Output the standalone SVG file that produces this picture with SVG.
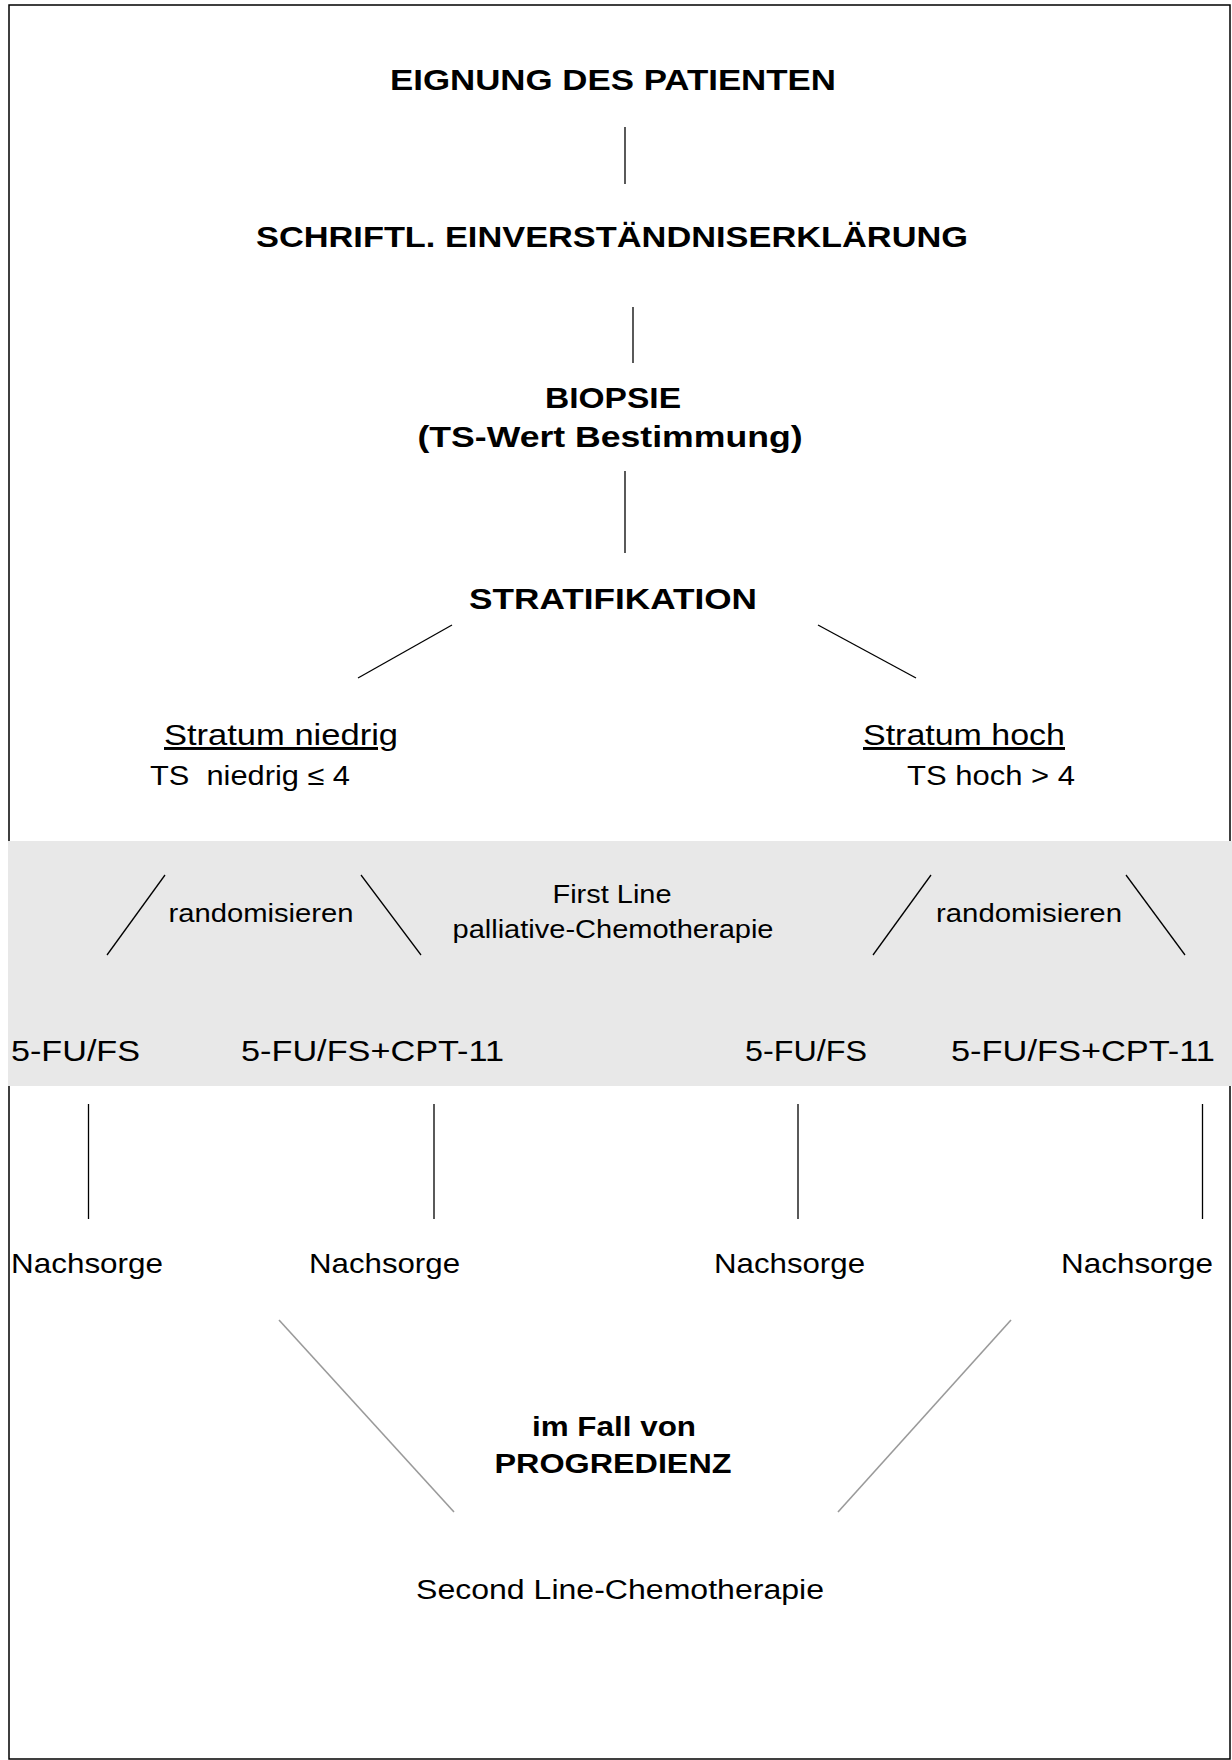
<svg xmlns="http://www.w3.org/2000/svg" width="1232" height="1760" viewBox="0 0 1232 1760">
<style>
  .b { font-family: "Liberation Sans", Arial, Helvetica, sans-serif; font-weight: bold; fill: #000; text-anchor: middle; }
  .r { font-family: "Liberation Sans", Arial, Helvetica, sans-serif; fill: #000; text-anchor: middle; }
  .c line { stroke: #000; stroke-width: 1.3; }
  .c line.g { stroke: #9a9a9a; stroke-width: 1.6; }
</style>
<rect x="0" y="0" width="1232" height="1760" fill="#fff"/>
<rect x="9" y="5" width="1221" height="1754" fill="none" stroke="#000" stroke-width="1.5"/>
<rect x="8" y="841" width="1224" height="245" fill="#e8e8e8"/>

<g class="c" id="connectors">
  <line x1="625" y1="127" x2="625" y2="184"/>
  <line x1="633" y1="307" x2="633" y2="363"/>
  <line x1="625" y1="471" x2="625" y2="553"/>
  <line x1="452" y1="625" x2="358" y2="678"/>
  <line x1="818" y1="625" x2="916" y2="678"/>
  <line x1="165" y1="875" x2="107" y2="955"/>
  <line x1="361" y1="875" x2="421" y2="955"/>
  <line x1="931" y1="875" x2="873" y2="955"/>
  <line x1="1126" y1="875" x2="1185" y2="955"/>
  <line x1="88.5" y1="1104" x2="88.5" y2="1219"/>
  <line x1="434" y1="1104" x2="434" y2="1219"/>
  <line x1="798" y1="1104" x2="798" y2="1219"/>
  <line x1="1202.5" y1="1104" x2="1202.5" y2="1219"/>
  <line class="g" x1="279" y1="1320" x2="454" y2="1512"/>
  <line class="g" x1="1011" y1="1320" x2="838" y2="1512"/>
</g>

<g id="eignung"><text class="b" x="613" y="90" font-size="29.5" textLength="446" lengthAdjust="spacingAndGlyphs">EIGNUNG DES PATIENTEN</text></g>
<g id="einverstaendnis"><text class="b" x="612" y="247" font-size="29.5" textLength="712" lengthAdjust="spacingAndGlyphs">SCHRIFTL. EINVERSTÄNDNISERKLÄRUNG</text></g>
<g id="biopsie">
  <text class="b" x="613" y="408" font-size="29.5" textLength="136" lengthAdjust="spacingAndGlyphs">BIOPSIE</text>
  <text class="b" x="610" y="447" font-size="29.5" textLength="385" lengthAdjust="spacingAndGlyphs">(TS-Wert Bestimmung)</text>
</g>
<g id="stratifikation"><text class="b" x="613" y="609" font-size="29.5" textLength="288" lengthAdjust="spacingAndGlyphs">STRATIFIKATION</text></g>
<g id="stratum-niedrig">
  <text class="r" x="281" y="745" font-size="29.5" text-decoration="underline" textLength="234" lengthAdjust="spacingAndGlyphs">Stratum niedrig</text>
  <text class="r" x="250" y="785" font-size="27.5" xml:space="preserve" textLength="200" lengthAdjust="spacingAndGlyphs">TS  niedrig ≤ 4</text>
</g>
<g id="stratum-hoch">
  <text class="r" x="964" y="745" font-size="29.5" text-decoration="underline" textLength="202" lengthAdjust="spacingAndGlyphs">Stratum hoch</text>
  <text class="r" x="991" y="785" font-size="27.5" textLength="168" lengthAdjust="spacingAndGlyphs">TS hoch &gt; 4</text>
</g>
<g id="randomisieren-links"><text class="r" x="261" y="922" font-size="25" textLength="185" lengthAdjust="spacingAndGlyphs">randomisieren</text></g>
<g id="first-line">
  <text class="r" x="612" y="903" font-size="25" textLength="119" lengthAdjust="spacingAndGlyphs">First Line</text>
  <text class="r" x="613" y="938" font-size="25" textLength="321" lengthAdjust="spacingAndGlyphs">palliative-Chemotherapie</text>
</g>
<g id="randomisieren-rechts"><text class="r" x="1029" y="922" font-size="25" textLength="186" lengthAdjust="spacingAndGlyphs">randomisieren</text></g>
<g id="arm1"><text class="r" x="75.5" y="1061" font-size="29" textLength="129" lengthAdjust="spacingAndGlyphs">5-FU/FS</text></g>
<g id="arm2"><text class="r" x="372.5" y="1061" font-size="29" textLength="263" lengthAdjust="spacingAndGlyphs">5-FU/FS+CPT-11</text></g>
<g id="arm3"><text class="r" x="806" y="1061" font-size="29" textLength="122" lengthAdjust="spacingAndGlyphs">5-FU/FS</text></g>
<g id="arm4"><text class="r" x="1083" y="1061" font-size="29" textLength="264" lengthAdjust="spacingAndGlyphs">5-FU/FS+CPT-11</text></g>
<g id="nachsorge1"><text class="r" x="87" y="1273" font-size="28" textLength="152" lengthAdjust="spacingAndGlyphs">Nachsorge</text></g>
<g id="nachsorge2"><text class="r" x="384.5" y="1273" font-size="28" textLength="151" lengthAdjust="spacingAndGlyphs">Nachsorge</text></g>
<g id="nachsorge3"><text class="r" x="789.5" y="1273" font-size="28" textLength="151" lengthAdjust="spacingAndGlyphs">Nachsorge</text></g>
<g id="nachsorge4"><text class="r" x="1137" y="1273" font-size="28" textLength="152" lengthAdjust="spacingAndGlyphs">Nachsorge</text></g>
<g id="progredienz">
  <text class="b" x="614" y="1436" font-size="27" textLength="164" lengthAdjust="spacingAndGlyphs">im Fall von</text>
  <text class="b" x="613" y="1473" font-size="27" textLength="237" lengthAdjust="spacingAndGlyphs">PROGREDIENZ</text>
</g>
<g id="second-line"><text class="r" x="620" y="1599" font-size="27" textLength="408" lengthAdjust="spacingAndGlyphs">Second Line-Chemotherapie</text></g>
</svg>
